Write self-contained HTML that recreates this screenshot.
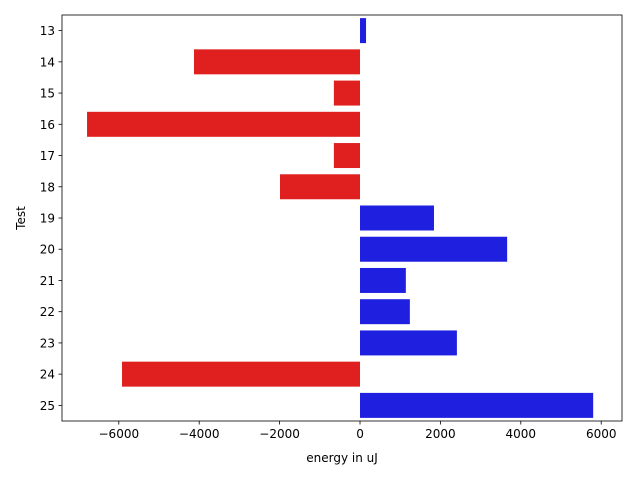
<!DOCTYPE html>
<html><head><meta charset="utf-8"><style>
body{margin:0;background:#fff;font-family:"DejaVu Sans","Liberation Sans",sans-serif;}
</style></head><body>
<svg id="chart" width="640" height="480" xmlns="http://www.w3.org/2000/svg" font-family="DejaVu Sans, Liberation Sans, sans-serif"></svg>
<script>
const categories = ["13","14","15","16","17","18","19","20","21","22","23","24","25"];
const values = [150,-4130,-650,-6790,-650,-1990,1840,3660,1140,1240,2410,-5920,5800];
const xTicks = [-6000,-4000,-2000,0,2000,4000,6000];
const xTickLabels = ["\u22126000","\u22124000","\u22122000","0","2000","4000","6000"];

const L=62,R=622,T=15,B=421;
const xMin=-7413,xMax=6517;
const NS="http://www.w3.org/2000/svg";
const svg=document.getElementById('chart');
function x(v){return L+(v-xMin)/(xMax-xMin)*(R-L);}
const band=(B-T)/categories.length;
function y(i){return T+band*i;}
function mk(tag,attrs){const e=document.createElementNS(NS,tag);for(const k in attrs)e.setAttribute(k,attrs[k]);svg.appendChild(e);return e;}

values.forEach((v,i)=>{
  const x0=x(Math.min(0,v)),x1=x(Math.max(0,v));
  const r=mk('rect',{x:x0,y:y(i)+band*0.1,width:x1-x0,height:band*0.8,fill:v<0?'#e01f1f':'#1f1fe0'});
  
  
});
const frame=mk('rect',{x:L,y:T,width:R-L,height:B-T,fill:'none',stroke:'#000','stroke-width':0.8});



xTicks.forEach((t,i)=>{
  const px=x(t);
  mk('line',{x1:px,x2:px,y1:B,y2:B+3.5,stroke:'#000','stroke-width':0.8});
  const tx=mk('text',{x:px,y:B+17,'text-anchor':'middle','font-size':12,fill:'#000'});
  tx.textContent=xTickLabels[i];
  
  
});
categories.forEach((c,i)=>{
  const py=y(i)+band/2;
  mk('line',{x1:L-3.5,x2:L,y1:py,y2:py,stroke:'#000','stroke-width':0.8});
  const tx=mk('text',{x:L-7,y:py+4.5,'text-anchor':'end','font-size':12,fill:'#000'});
  tx.textContent=c;
  
  
});
const xt=mk('text',{x:(L+R)/2,y:462,'text-anchor':'middle','font-size':12,fill:'#000'});
xt.textContent='energy in uJ';


const yt=mk('text',{x:25,y:(T+B)/2,'text-anchor':'middle','font-size':12,fill:'#000',transform:'rotate(-90 25 '+((T+B)/2)+')'});
yt.textContent='Test';


</script>
</body></html>
